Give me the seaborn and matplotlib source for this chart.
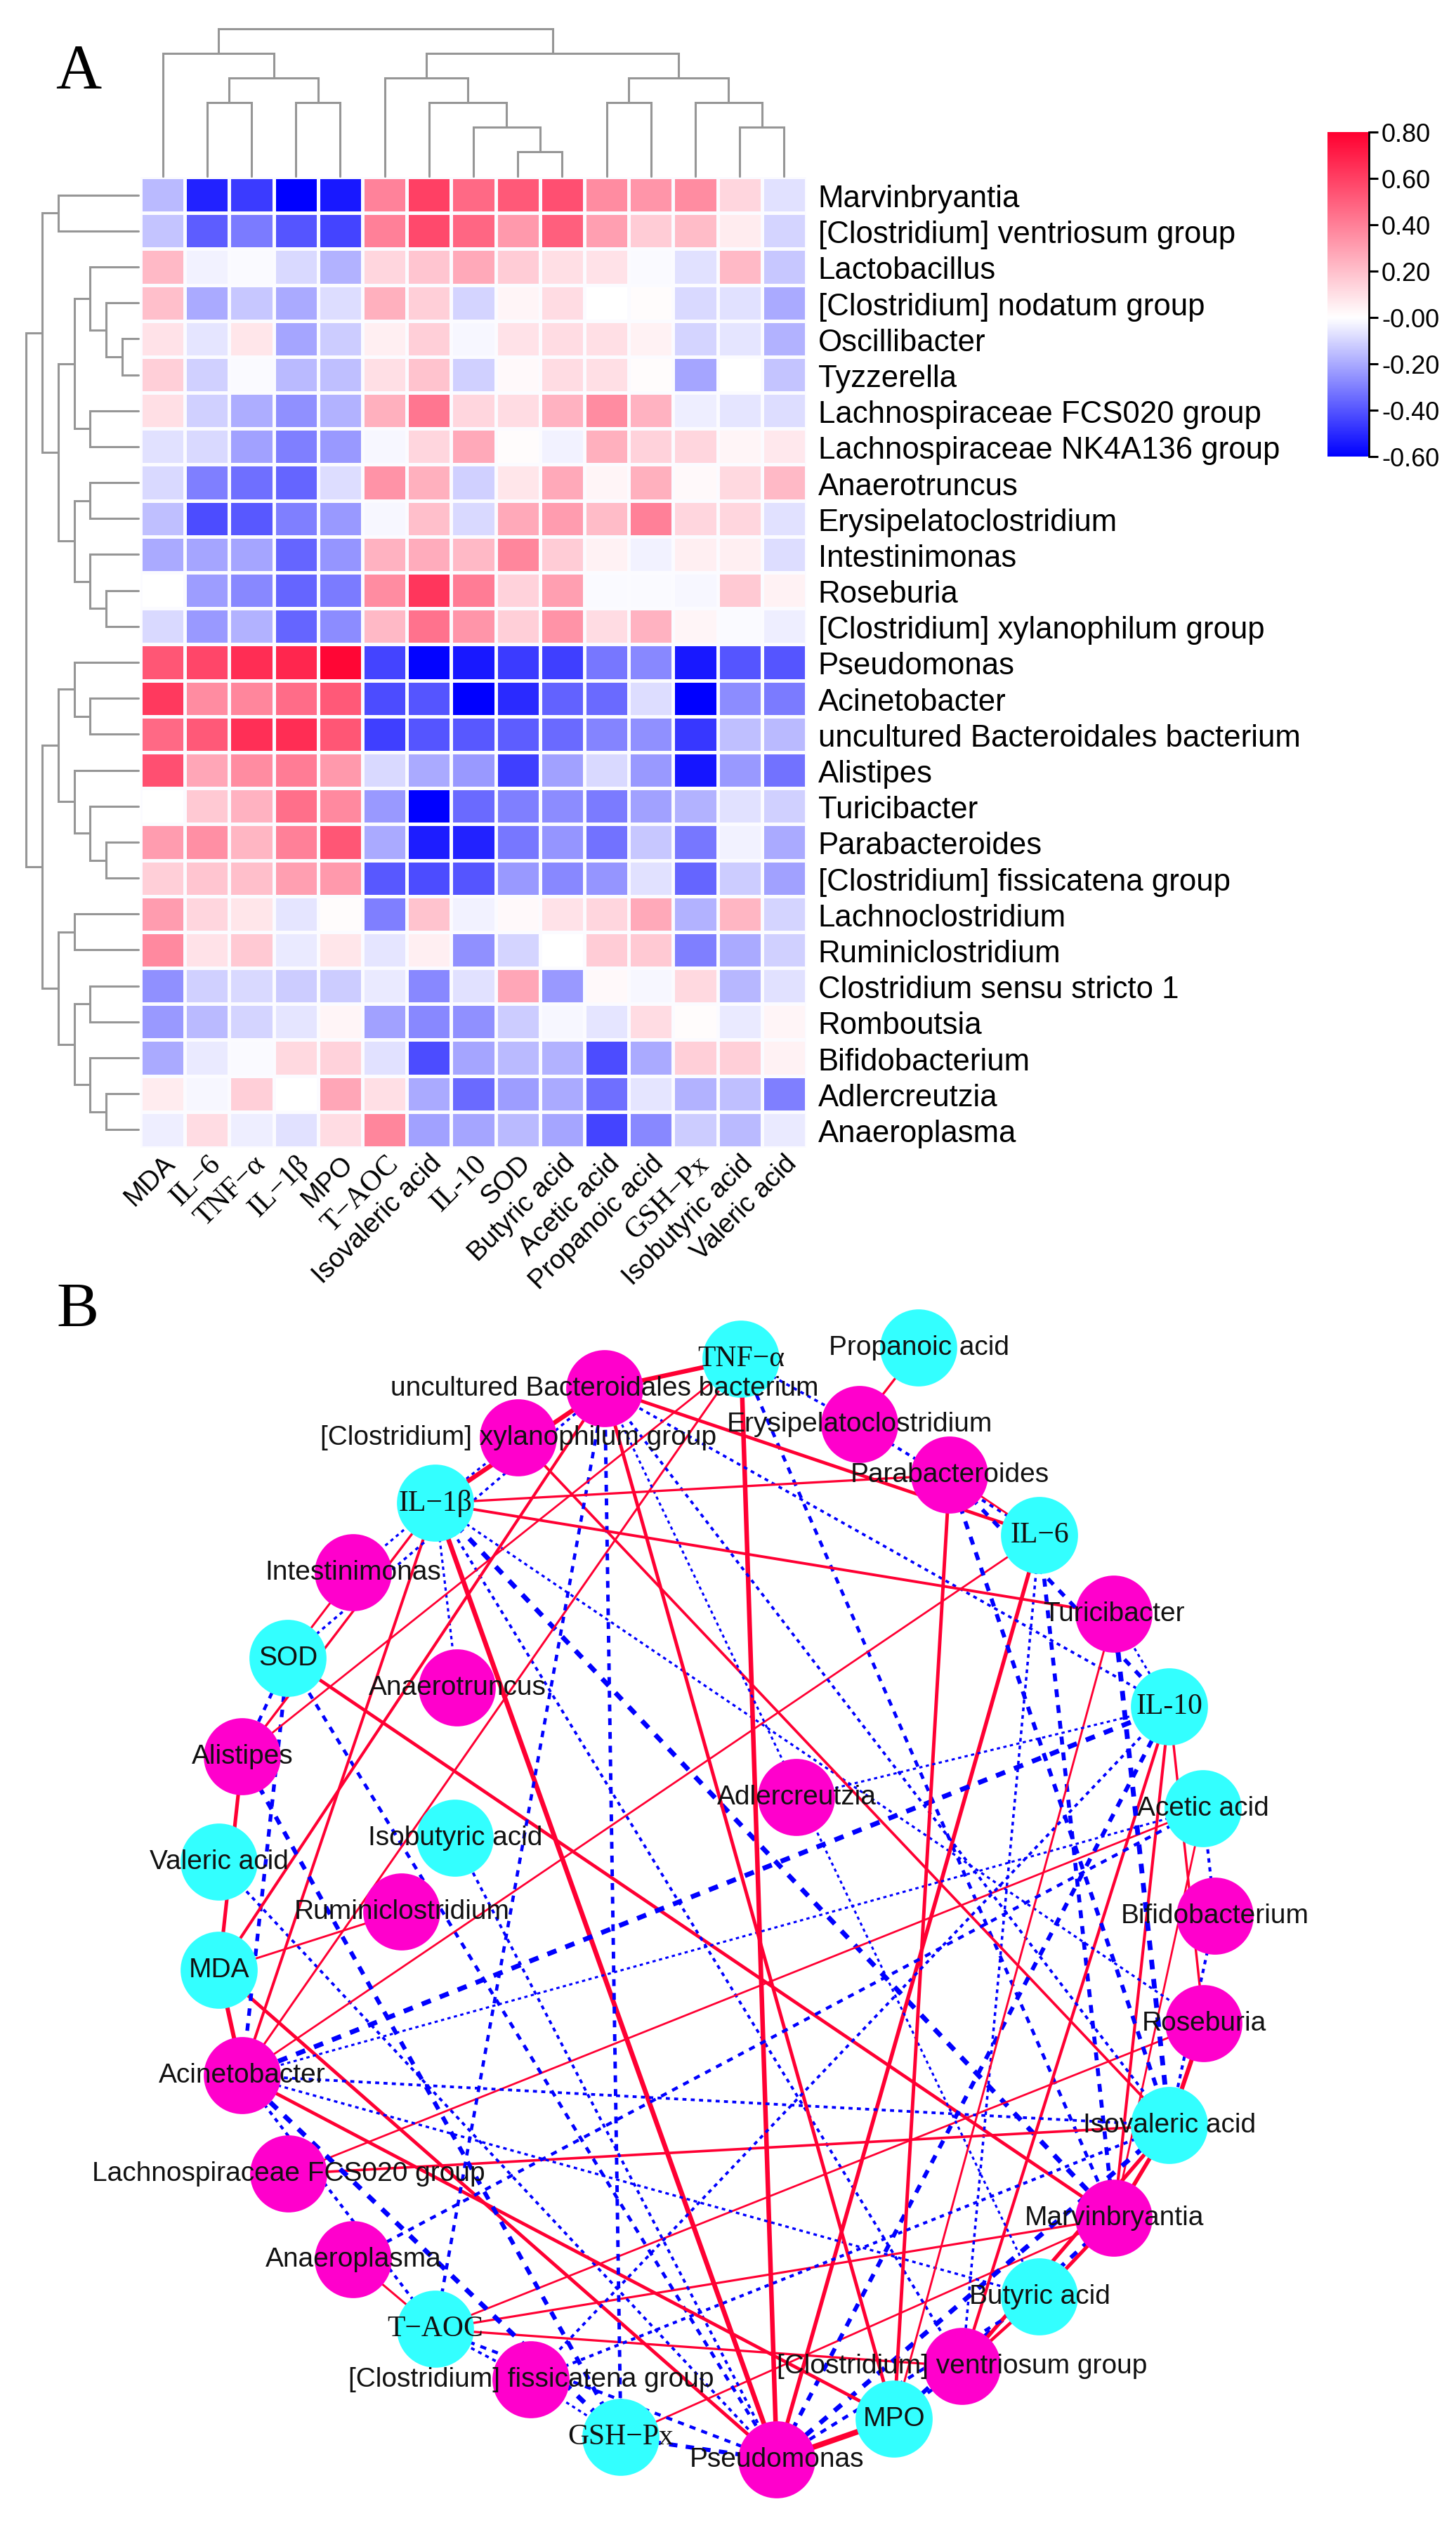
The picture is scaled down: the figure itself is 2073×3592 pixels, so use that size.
import numpy as np
import pandas as pd
import matplotlib
matplotlib.use("Agg")
import matplotlib.pyplot as plt
from matplotlib.colors import LinearSegmentedColormap
from matplotlib.transforms import ScaledTranslation
import seaborn as sns

W, H = 2073, 3592

# ---------- data ----------
taxa = ["Marvinbryantia", "[Clostridium] ventriosum group", "Lactobacillus", "[Clostridium] nodatum group",
        "Oscillibacter", "Tyzzerella", "Lachnospiraceae FCS020 group", "Lachnospiraceae NK4A136 group",
        "Anaerotruncus", "Erysipelatoclostridium", "Intestinimonas", "Roseburia",
        "[Clostridium] xylanophilum group", "Pseudomonas", "Acinetobacter",
        "uncultured Bacteroidales bacterium", "Alistipes", "Turicibacter", "Parabacteroides",
        "[Clostridium] fissicatena group", "Lachnoclostridium", "Ruminiclostridium",
        "Clostridium sensu stricto 1", "Romboutsia", "Bifidobacterium", "Adlercreutzia", "Anaeroplasma"]
markers = ["MDA", "IL\u22126", "TNF\u2212\u03b1", "IL\u22121\u03b2", "MPO", "T\u2212AOC", "Isovaleric acid", "IL-10",
           "SOD", "Butyric acid", "Acetic acid", "Propanoic acid", "GSH\u2212Px", "Isobutyric acid", "Valeric acid"]

r_marvin = [-.16, -.52, -.46, -.60, -.54, .39, .60, .47, .52, .55, .36, .33, .36, .13, -.07]
r_ventri = [-.14, -.38, -.31, -.40, -.44, .40, .57, .48, .32, .50, .30, .16, .21, .06, -.10]
r_lacto = [.22, -.03, -.01, -.09, -.18, .13, .18, .27, .16, .10, .09, -.01, -.07, .22, -.13]
r_nodat = [.20, -.20, -.13, -.20, -.08, .25, .15, -.10, .03, .11, 0, .01, -.09, -.07, -.20]
r_oscil = [.09, -.06, .08, -.21, -.12, .05, .15, -.02, .09, .11, .10, .04, -.10, -.06, -.18]
r_tyzze = [.15, -.11, -.01, -.16, -.15, .10, .19, -.11, .02, .11, .10, .01, -.21, 0, -.14]
r_fcs02 = [.10, -.11, -.19, -.26, -.18, .25, .43, .13, .11, .24, .36, .24, -.04, -.06, -.08]
r_nk4a1 = [-.07, -.09, -.22, -.30, -.24, -.02, .13, .27, .01, -.03, .25, .14, .13, .03, .07]
r_anaet = [-.09, -.30, -.34, -.36, -.08, .34, .25, -.11, .08, .27, .03, .25, .02, .12, .22]
r_erysi = [-.15, -.42, -.39, -.30, -.24, -.02, .20, -.09, .27, .31, .21, .40, .13, .13, -.07]
r_intes = [-.20, -.21, -.21, -.36, -.25, .24, .26, .22, .38, .16, .04, -.03, .05, .05, -.08]
r_roseb = [0, -.23, -.28, -.36, -.31, .36, .63, .41, .14, .30, -.01, -.01, -.02, .17, .04]
r_xylan = [-.09, -.24, -.18, -.36, -.27, .22, .44, .33, .15, .34, .11, .24, .03, -.01, -.04]
r_pseud = [.53, .58, .66, .68, .78, -.44, -.59, -.54, -.46, -.45, -.32, -.28, -.54, -.40, -.40]
r_acine = [.62, .36, .38, .46, .52, -.42, -.40, -.60, -.50, -.37, -.35, -.08, -.60, -.27, -.31]
r_uncul = [.47, .52, .65, .66, .53, -.45, -.40, -.39, -.38, -.35, -.29, -.26, -.47, -.15, -.16]
r_alist = [.55, .28, .36, .41, .32, -.09, -.20, -.24, -.45, -.22, -.09, -.24, -.55, -.24, -.33]
r_turic = [0, .17, .24, .45, .37, -.24, -.60, -.35, -.30, -.27, -.31, -.22, -.18, -.07, -.11]
r_parab = [.31, .35, .23, .40, .53, -.20, -.53, -.52, -.32, -.25, -.33, -.13, -.32, -.03, -.20]
r_fissi = [.15, .18, .20, .30, .32, -.39, -.42, -.40, -.24, -.28, -.25, -.07, -.36, -.12, -.22]
r_lachn = [.31, .13, .08, -.06, .01, -.30, .19, -.03, .02, .09, .13, .27, -.18, .23, -.10]
r_rumin = [.37, .09, .17, -.05, .08, -.06, .05, -.26, -.10, 0, .16, .17, -.30, -.20, -.11]
r_clost = [-.26, -.11, -.09, -.12, -.12, -.05, -.28, -.07, .28, -.24, .02, -.02, .12, -.17, -.07]
r_rombo = [-.24, -.16, -.10, -.06, .03, -.22, -.28, -.26, -.12, -.02, -.06, .11, .01, -.05, .03]
r_bifid = [-.20, -.05, -.01, .12, .14, -.07, -.42, -.21, -.16, -.18, -.42, -.20, .15, .15, .04]
r_adler = [.06, -.02, .15, 0, .28, .10, -.20, -.35, -.23, -.20, -.34, -.06, -.18, -.15, -.30]
r_anaep = [-.04, .11, -.04, -.07, .11, .38, -.22, -.21, -.16, -.21, -.44, -.28, -.12, -.16, -.05]

corr = pd.DataFrame([r_marvin, r_ventri, r_lacto, r_nodat, r_oscil, r_tyzze, r_fcs02, r_nk4a1, r_anaet,
                     r_erysi, r_intes, r_roseb, r_xylan, r_pseud, r_acine, r_uncul, r_alist, r_turic,
                     r_parab, r_fissi, r_lachn, r_rumin, r_clost, r_rombo, r_bifid, r_adler, r_anaep],
                    index=taxa, columns=markers)

# dendrograms: (merge height, left child, right child); ints are leaves
col_tree = (6, (5, 0, (4, (3, 1, 2), (3, 3, 4))),
            (5, (4, 5, (3, 6, (2, 7, (1, 8, 9)))), (4, (3, 10, 11), (3, 12, (2, 13, 14)))))
row_tree = (7,
            (6, (5, 0, 1),
             (5, (4, (3, 2, (2, 3, (1, 4, 5))), (3, 6, 7)),
              (4, (3, 8, 9), (3, 10, (2, 11, 12))))),
            (6, (5, (4, 13, (3, 14, 15)), (4, 16, (3, 17, (2, 18, 19)))),
             (5, (4, 20, 21), (4, (3, 22, 23), (3, 24, (2, 25, 26))))))

# network layout as drawn in the figure (pixel frame)
node_names = ["uncultured Bacteroidales bacterium", "[Clostridium] xylanophilum group", "IL\u22121\u03b2",
              "Intestinimonas", "SOD", "Alistipes", "Anaerotruncus", "Isobutyric acid", "Valeric acid",
              "Ruminiclostridium", "MDA", "Acinetobacter", "Lachnospiraceae FCS020 group", "Anaeroplasma",
              "T\u2212AOC", "[Clostridium] fissicatena group", "GSH\u2212Px", "Pseudomonas", "MPO",
              "[Clostridium] ventriosum group", "Butyric acid", "Marvinbryantia", "Isovaleric acid", "Roseburia",
              "Bifidobacterium", "Acetic acid", "IL-10", "Turicibacter", "IL\u22126", "Parabacteroides",
              "Erysipelatoclostridium", "Propanoic acid", "TNF\u2212\u03b1", "Adlercreutzia"]
node_x = [861, 738, 620, 503, 410, 345, 651, 648, 312, 572, 312, 345, 411, 503, 620, 756, 884, 1106, 1273,
          1370, 1480, 1586, 1665, 1714, 1730, 1713, 1665, 1586, 1480, 1352, 1224, 1308, 1055, 1134]
node_y = [1977, 2047, 2140, 2239, 2361, 2501, 2403, 2617, 2651, 2722, 2805, 2955, 3095, 3217, 3316, 3388, 3470,
          3502, 3444, 3369, 3270, 3158, 3026, 2881, 2728, 2575, 2430, 2298, 2186, 2100, 2028, 1919, 1935, 2559]
edge_threshold = 0.35

serif_names = {"IL\u22126", "TNF\u2212\u03b1", "IL\u22121\u03b2", "T\u2212AOC", "IL-10", "GSH\u2212Px"}
cbar_ticks = [-.6, -.4, -.2, 0, .2, .4, .6, .8]
cbar_labels = ["-0.60", "-0.40", "-0.20", "-0.00", "0.20", "0.40", "0.60", "0.80"]

# ---------- style ----------
SANS, SERIF = "Liberation Sans", "Liberation Serif"
sns.set_theme(style="white")
plt.rcParams["font.family"] = [SANS, "DejaVu Sans"]
DPI = 100
fig = plt.figure(figsize=(W / DPI, H / DPI), dpi=DPI, facecolor="white")


def px_axes(x0, y0, x1, y1, **kw):
    return fig.add_axes([x0 / W, 1 - y1 / H, (x1 - x0) / W, (y1 - y0) / H], **kw)


cmap = LinearSegmentedColormap.from_list("bwr2", [(0, "#0000ff"), (3 / 7, "#ffffff"), (1, "#ff0030")], N=512)

# ---------- heat map ----------
ax = px_axes(200, 252, 1148, 1634)
cax = px_axes(1890, 188, 1949, 650)
sns.heatmap(corr, ax=ax, cbar_ax=cax, cmap=cmap, vmin=-.6, vmax=.8, linewidths=2.2, linecolor="#fbfbff",
            xticklabels=True, yticklabels=True)
ax.yaxis.tick_right()
ax.tick_params(axis="both", length=0)
ax.tick_params(axis="y", pad=12, labelright=True, labelleft=False)
ax.tick_params(axis="x", pad=3)
ax.set_xlabel("")
ax.set_ylabel("")
shift_y = ScaledTranslation(0, -6 / DPI, fig.dpi_scale_trans)
for t in ax.get_yticklabels():
    t.set(rotation=0, fontsize=31.5, family=[SANS], va="center", ha="left", color="black")
    t.set_transform(t.get_transform() + shift_y)
for t in ax.get_xticklabels():
    is_serif = t.get_text() in serif_names
    t.set(rotation=45, ha="right", va="top", rotation_mode="anchor", fontsize=30 if is_serif else 27.5,
          color="black", family=[SERIF] if is_serif else [SANS])

# colour bar
cb = ax.collections[0].colorbar
cb.set_ticks(cbar_ticks, labels=cbar_labels)
cb.outline.set_visible(False)
cax.spines["right"].set_visible(True)
cax.spines["right"].set_color("black")
cax.spines["right"].set_linewidth(2)
cax.tick_params(axis="y", right=True, length=9, width=2.2, color="black", labelsize=26, pad=4, labelcolor="black")


# ---------- dendrograms ----------
def draw_tree(a, node, horizontal):
    if isinstance(node, int):
        return node + .5, 0
    h, left, right = node
    p0, h0 = draw_tree(a, left, horizontal)
    p1, h1 = draw_tree(a, right, horizontal)
    pos, hs = [p0, p0, p1, p1], [h0, h, h, h1]
    xy = (pos, hs) if horizontal else (hs, pos)
    a.plot(*xy, color="#969696", lw=2.2, solid_joinstyle="miter", clip_on=False)
    return (p0 + p1) / 2, h


top = px_axes(200, 41, 1148, 251)
top.set_xlim(0, len(markers))
top.set_ylim(0, 6)
draw_tree(top, col_tree, True)
top.axis("off")

lft = px_axes(37, 252, 197, 1634)
lft.set_xlim(7, 0)
lft.set_ylim(len(taxa), 0)
draw_tree(lft, row_tree, False)
lft.axis("off")

# ---------- network ----------
net = px_axes(0, 0, W, H)
net.set_xlim(0, W)
net.set_ylim(H, 0)
net.axis("off")
net.patch.set_alpha(0)

nodes = pd.DataFrame({"name": node_names, "x": node_x, "y": node_y})
nodes["kind"] = ["taxon" if n in taxa else "marker" for n in node_names]
lookup = nodes.set_index("name")

for taxon in corr.index:
    for marker in corr.columns:
        r = corr.loc[taxon, marker]
        if abs(r) < edge_threshold or taxon not in lookup.index:
            continue
        xs = [lookup.loc[taxon, "x"], lookup.loc[marker, "x"]]
        ys = [lookup.loc[taxon, "y"], lookup.loc[marker, "y"]]
        if r > 0:
            net.plot(xs, ys, color="#ff0033", lw=1.9 + (r - .35) * 9, solid_capstyle="butt", zorder=1)
        else:
            dash = (0, (2, 2)) if abs(r) > .42 else (0, (1.5, 1.6))
            net.plot(xs, ys, color="#0000ff", lw=2.2 + (abs(r) - .35) * 11, ls=dash, zorder=1)

sns.scatterplot(data=nodes, x="x", y="y", hue="kind", palette={"taxon": "#ff00cc", "marker": "#33ffff"},
                s=79 ** 2, linewidth=0, legend=False, ax=net, zorder=2, clip_on=False)
net.set_xlabel("")
net.set_ylabel("")
for _, row in nodes.iterrows():
    is_serif = row["name"] in serif_names
    net.text(row["x"], row["y"], row["name"], ha="center", va="center", fontsize=30 if is_serif else 28,
             color="#111111", zorder=3, family=[SERIF] if is_serif else [SANS])

# panel letters
net.text(79, 126, "A", family=[SERIF], fontsize=65, color="black", ha="left", va="baseline")
net.text(80, 1889, "B", family=[SERIF], fontsize=65, color="black", ha="left", va="baseline")

fig.savefig("out.png", dpi=DPI, facecolor="white")
